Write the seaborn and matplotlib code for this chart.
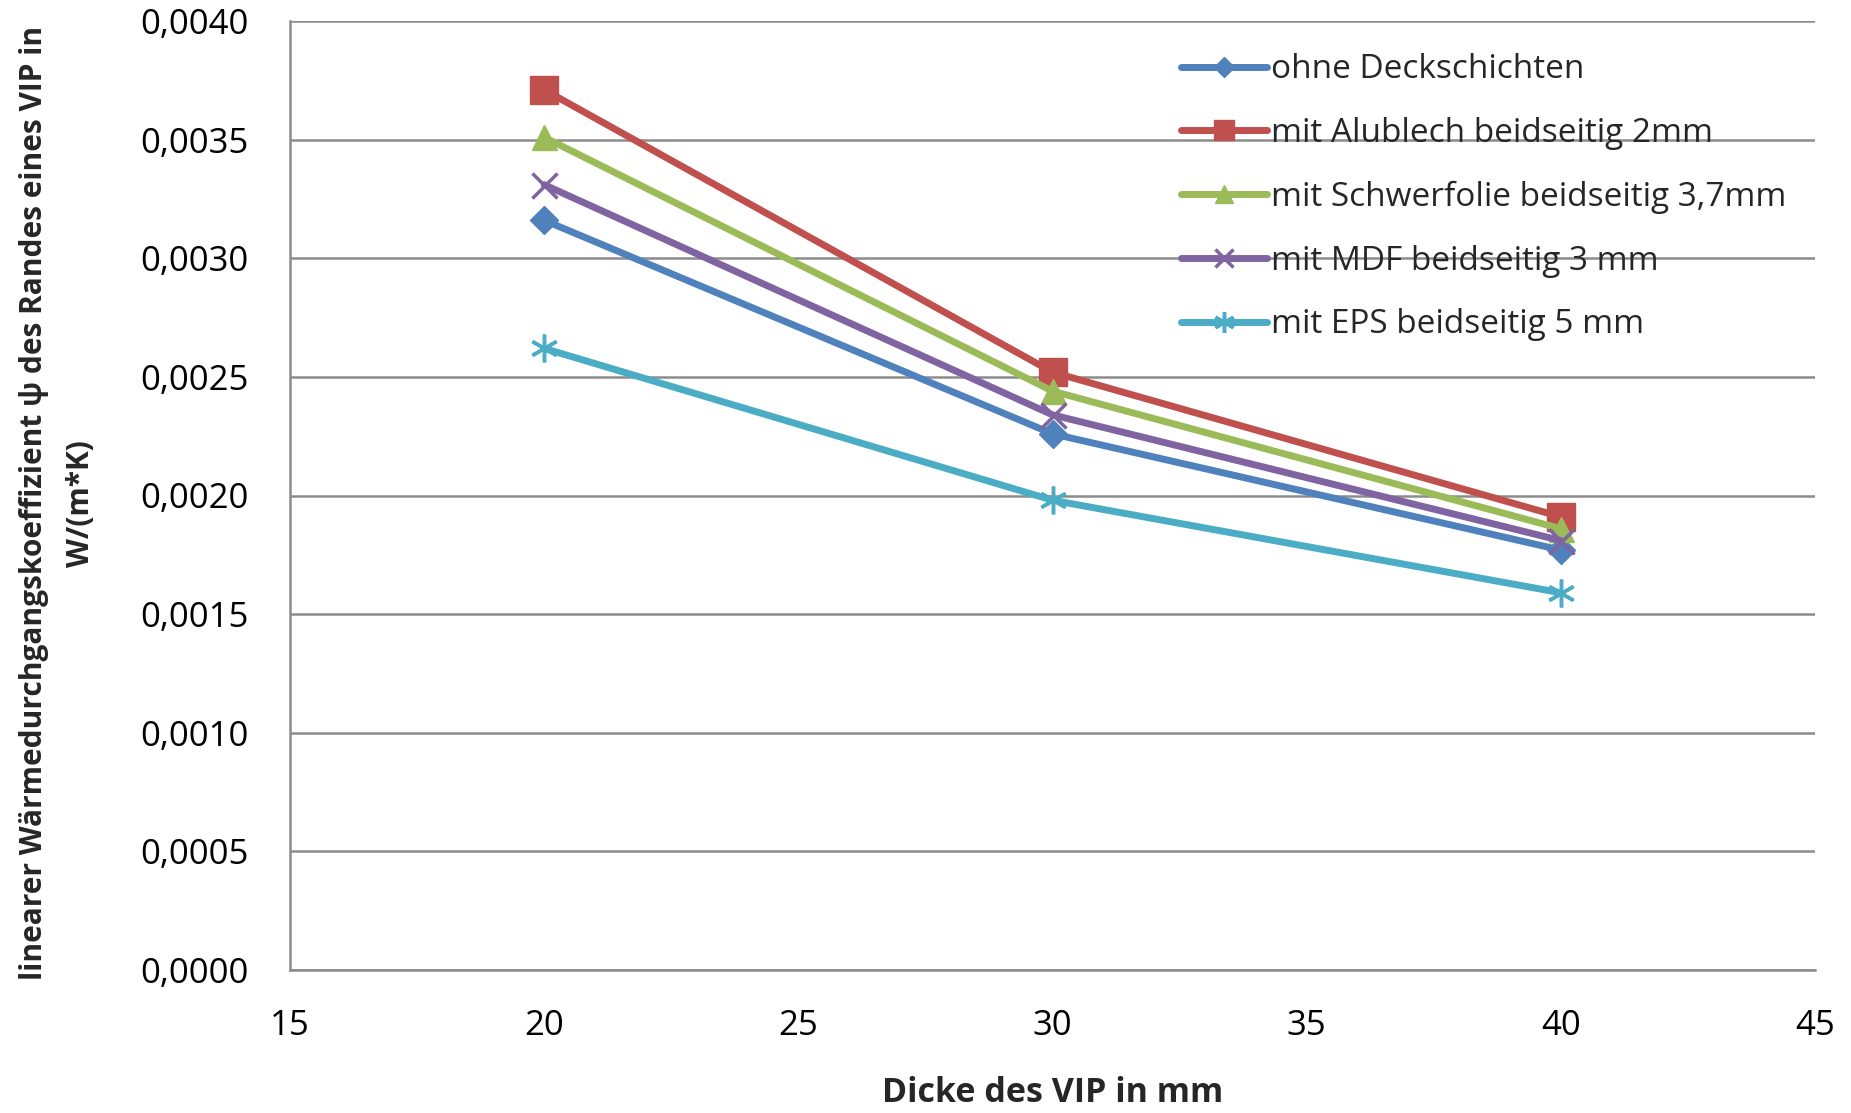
import matplotlib
matplotlib.use("Agg")
import matplotlib.pyplot as plt
import seaborn as sns
import pandas as pd
from matplotlib.ticker import FuncFormatter, MultipleLocator

thickness = [20, 30, 40]
series_names = [
    "ohne Deckschichten",
    "mit Alublech beidseitig 2mm",
    "mit Schwerfolie beidseitig 3,7mm",
    "mit MDF beidseitig 3 mm",
    "mit EPS beidseitig 5 mm",
]
ohne = [0.00316, 0.00226, 0.00177]
alublech = [0.00371, 0.00252, 0.00191]
schwerfolie = [0.00351, 0.00244, 0.00186]
mdf = [0.00331, 0.00234, 0.00181]
eps = [0.00262, 0.00198, 0.00159]

colors = ["#4F81BD", "#C0504D", "#9BBB59", "#8064A2", "#4BACC6"]
markers = ["D", "s", "^", "x", (6, 2, 0)]
msizes = [14, 20, 18, 18, 20]

rows = []
for name, vals in zip(series_names, [ohne, alublech, schwerfolie, mdf, eps]):
    for t, v in zip(thickness, vals):
        rows.append({"Dicke": t, "psi": v, "Serie": name})
df = pd.DataFrame(rows)

sns.set_theme(style="white")
plt.rcParams["font.family"] = ["Open Sans", "DejaVu Sans"]

fig = plt.figure(figsize=(18.51, 11.13), dpi=100)
ax = fig.add_axes([290 / 1851, 1 - 970 / 1113, (1815 - 290) / 1851, (970 - 21) / 1113])

for name, c, m, ms in zip(series_names, colors, markers, msizes):
    sub = df[df["Serie"] == name]
    sns.lineplot(data=sub, x="Dicke", y="psi", ax=ax, color=c, linewidth=5,
                 marker=m, markersize=ms,
                 markeredgewidth=2.5 if (m == "x" or isinstance(m, tuple)) else 1,
                 markeredgecolor=c, label=name, zorder=3)

ax.set_xlim(15, 45)
ax.set_ylim(0, 0.004)
ax.xaxis.set_major_locator(MultipleLocator(5))
ax.yaxis.set_major_locator(MultipleLocator(0.0005))
ax.yaxis.set_major_formatter(FuncFormatter(lambda v, p: f"{v:.4f}".replace(".", ",")))
ax.grid(axis="y", color="#8c8c8c", linewidth=1.8)
ax.set_axisbelow(True)
for s in ["top", "right"]:
    ax.spines[s].set_visible(False)
for s in ["left", "bottom"]:
    ax.spines[s].set_color("#8c8c8c")
    ax.spines[s].set_linewidth(1.8)
ax.tick_params(axis="both", direction="out", length=8, width=1.8, color="#8c8c8c",
               labelsize=25, labelcolor="black")
ax.tick_params(axis="y", pad=22)
ax.tick_params(axis="x", pad=20)

ax.set_xlabel("Dicke des VIP in mm", fontsize=24.5, fontweight="bold", labelpad=24)
ax.set_ylabel("linearer Wärmedurchgangskoeffizient ψ des Randes eines VIP in\nW/(m*K)",
              fontsize=21.5, fontweight="bold", linespacing=1.75)
ax.yaxis.set_label_coords(-0.127, 0.492)

leg = ax.legend(loc="upper left", bbox_to_anchor=(0.584, 0.966), frameon=False, fontsize=24,
                handlelength=2.6, handletextpad=0.1, labelspacing=0.92, borderaxespad=0,
                borderpad=0, markerscale=0.75)

fig.savefig("out.png", dpi=100)
